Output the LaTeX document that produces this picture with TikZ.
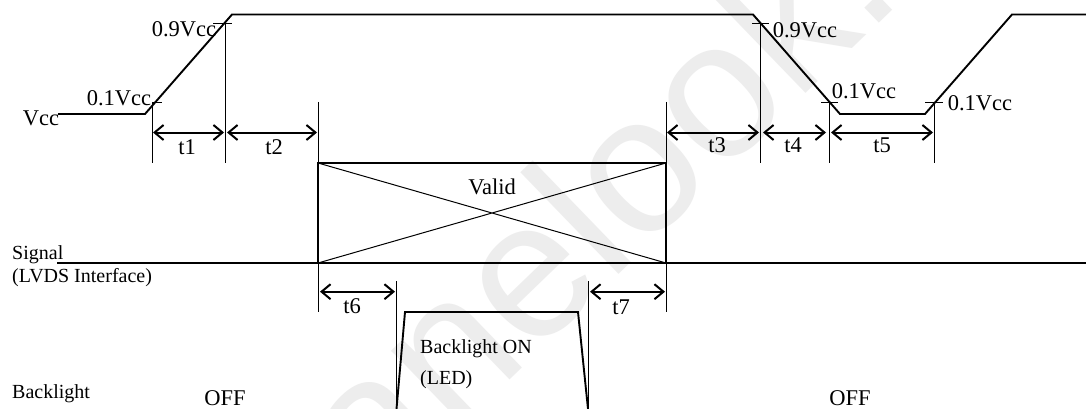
\documentclass[tikz,border=0pt]{standalone}
\usepackage{fontspec}
\setmainfont{Liberation Serif}
\newfontfamily\wmfont{Liberation Sans}
\usetikzlibrary{arrows.meta}
\tikzset{
  x=1pt,y=-1pt,
  wave/.style={line width=1.9pt,black,line join=miter},
  guide/.style={line width=1pt,black},
  span/.style={line width=2pt,black,{Straight Barb[length=9pt,width=15pt,line width=2pt]}-{Straight Barb[length=9pt,width=15pt,line width=2pt]}},
  big/.style={font=\fontsize{22.5}{24}\selectfont,inner sep=0pt},
  small/.style={font=\fontsize{20}{22}\selectfont,inner sep=0pt},
  watermark/.style={font=\wmfont\fontsize{195}{195}\selectfont,text=black!7,inner sep=0pt,rotate=44,anchor=base west}
}
\begin{document}
\begin{tikzpicture}
\useasboundingbox (0,0) rectangle (1086,409);
\fill[white] (0,0) rectangle (1086,409);
\clip (0,0) rectangle (1086,409);
\node[watermark] (wm) at (297,585) {panelook.c};
% Vcc waveform
\coordinate (v0) at (58,114);
\coordinate (v1) at (145,114);
\coordinate (v2) at (232,14.5);
\coordinate (v3) at (753,14.5);
\coordinate (v4) at (840,114);
\coordinate (v5) at (925,114);
\coordinate (v6) at (1012,14.5);
\coordinate (v7) at (1086,14.5);
\draw[wave] (v0)--(v1)--(v2)--(v3)--(v4)--(v5)--(v6)--(v7);
% guides
\coordinate (g1t) at (152,103); \coordinate (g1b) at (152,163);
\coordinate (g2t) at (225,23.5); \coordinate (g2b) at (225,163);
\coordinate (g3t) at (318,102); \coordinate (g3b) at (318,312);
\coordinate (g4t) at (666,102); \coordinate (g4b) at (666,312);
\coordinate (g5t) at (760,23.5); \coordinate (g5b) at (760,163);
\coordinate (g6t) at (829.5,103); \coordinate (g6b) at (829.5,163);
\coordinate (g7t) at (934,103); \coordinate (g7b) at (934,163);
\coordinate (g8t) at (396.7,281); \coordinate (g8b) at (396.7,409);
\coordinate (g9t) at (588,281); \coordinate (g9b) at (588,409);
\foreach \n in {1,...,9} \draw[guide] (g\n t)--(g\n b);
% ticks
\draw[guide] (152,103)--(162,103);
\draw[guide] (213,23.5)--(232,23.5);
\draw[guide] (752,23.5)--(769,23.5);
\draw[guide] (821,103)--(838,103);
\draw[guide] (925,103)--(943,103);
% spans
\draw[span] (153,132.5)--(224,132.5);
\draw[span] (227,132.5)--(317,132.5);
\draw[span] (667,132.5)--(759,132.5);
\draw[span] (763,132.5)--(826,132.5);
\draw[span] (831,132.5)--(933,132.5);
\draw[span] (320,291.7)--(395,291.7);
\draw[span] (590,291.7)--(665,291.7);
% Valid box
\coordinate (bl) at (318,263); \coordinate (tl) at (318,163);
\coordinate (tr) at (666,163); \coordinate (br) at (666,263);
\draw[wave] (bl)--(tl)--(tr)--(br);
\draw[guide] (tl)--(br) (bl)--(tr);
% Signal
\coordinate (s0) at (57,263); \coordinate (s1) at (1086,263);
\draw[wave] (s0)--(s1);
% Backlight
\coordinate (b0) at (396.5,409); \coordinate (b1) at (405,312);
\coordinate (b2) at (578,312); \coordinate (b3) at (588,409);
\draw[wave] (b0)--(b1)--(b2)--(b3);
% labels
\node[big] (lv) at (41,118) {Vcc};
\node[big] (l01a) at (119,98) {0.1Vcc};
\node[big] (l09a) at (184,29) {0.9Vcc};
\node[big] (l09b) at (805,30) {0.9Vcc};
\node[big] (l01b) at (864,91) {0.1Vcc};
\node[big] (l01c) at (980,103) {0.1Vcc};
\node[big] (t1) at (187,147) {t1};
\node[big] (t2) at (274,147) {t2};
\node[big] (t3) at (717,145) {t3};
\node[big] (t4) at (793,145) {t4};
\node[big] (t5) at (882,145) {t5};
\node[big] (t6) at (352,306) {t6};
\node[big] (t7) at (621,307) {t7};
\node[big] (valid) at (492,187) {Valid};
\node[small,anchor=west] (sig) at (12,255) {Signal};
\node[small,anchor=west] (lvds) at (12,278) {(LVDS Interface)};
\node[small,anchor=west] (bk) at (12,394) {Backlight};
\node[big] (off1) at (225,398) {OFF};
\node[big] (off2) at (850,398) {OFF};
\node[small,anchor=west] (on) at (420,349) {Backlight ON};
\node[small,anchor=west] (led) at (420,380) {(LED)};
\end{tikzpicture}
\end{document}
